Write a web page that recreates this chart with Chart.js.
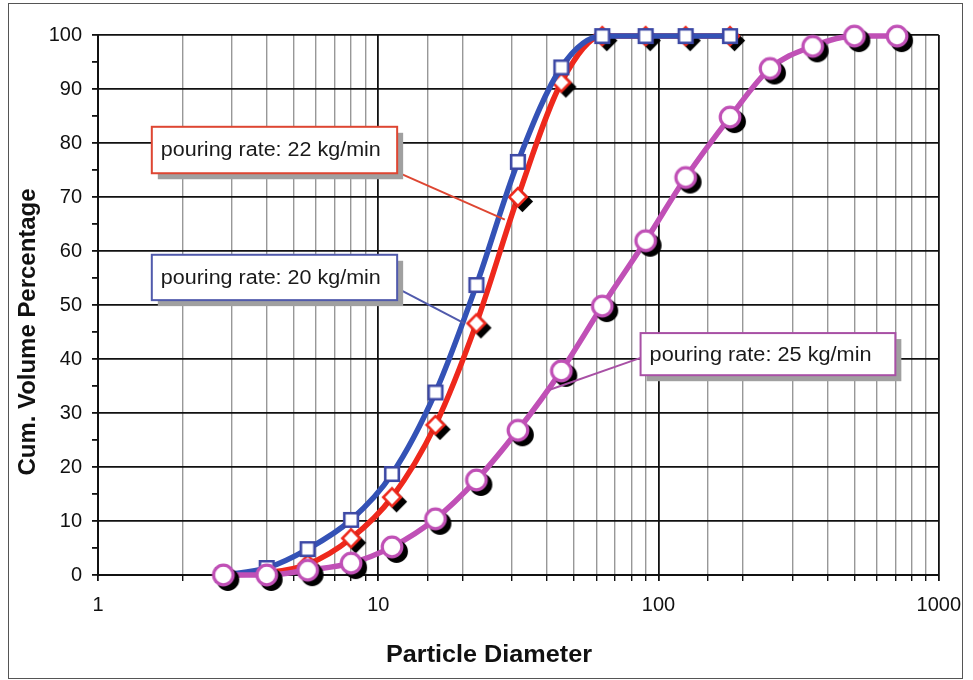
<!DOCTYPE html>
<html><head><meta charset="utf-8">
<script src="https://cdn.jsdelivr.net/npm/chart.js@4/dist/chart.umd.min.js"></script>
<style>
html,body{margin:0;padding:0;background:#fff;}
#frame{position:absolute;left:8px;top:3px;width:955px;height:676px;border:1px solid #555;box-sizing:border-box;}
#c{position:absolute;left:0;top:0;}
</style></head><body>
<div id="frame"></div>
<canvas id="c" width="973" height="680"></canvas>
<script>
// ---- data ----
const sieveSizes = [2.8, 4, 5.6, 8, 11.2, 16, 22.4, 31.5, 45, 63, 90, 125, 180, 250, 355, 500, 710];
const rate20 = [0, 1.3, 4.8, 10.2, 18.7, 33.8, 53.7, 76.5, 94.0, 99.8, 99.8, 99.8, 99.8];
const rate22 = [0, 0.4, 2.0, 6.8, 14.4, 27.8, 46.6, 70.0, 91.2, 99.8, 99.8, 99.8, 99.8];
const rate25 = [0, 0, 0.9, 2.2, 5.2, 10.4, 17.6, 26.8, 37.8, 49.8, 61.9, 73.6, 84.8, 93.8, 97.9, 99.8, 99.8];
const seriesNames = ['pouring rate: 20 kg/min', 'pouring rate: 22 kg/min', 'pouring rate: 25 kg/min'];
const xTitle = 'Particle Diameter';
const yTitle = 'Cum. Volume Percentage';

function pts(vals) { return vals.map((v, i) => ({x: sieveSizes[i], y: v})); }

// ---- styles ----
const BLUE = 'rgb(52,82,182)', RED = 'rgb(238,40,28)', MAG = 'rgb(192,80,182)';

function makeMarker(shape, half, stroke, lw, off) {
  const pad = Math.ceil(half + lw / 2 + off + 1);
  const size = pad * 2;
  const cv = document.createElement('canvas'); cv.width = size; cv.height = size;
  const g = cv.getContext('2d');
  const path = (cx, cy) => {
    g.beginPath();
    if (shape === 'circle') g.arc(cx, cy, half, 0, Math.PI * 2);
    else if (shape === 'square') g.rect(cx - half, cy - half, half * 2, half * 2);
    else { g.moveTo(cx, cy - half); g.lineTo(cx + half, cy); g.lineTo(cx, cy + half); g.lineTo(cx - half, cy); g.closePath(); }
  };
  const c = size / 2;
  if (off) { path(c + off, c + off); g.fillStyle = '#000'; g.fill(); g.lineWidth = lw; g.strokeStyle = '#000'; g.stroke(); }
  path(c, c); g.fillStyle = '#fff'; g.fill(); g.lineWidth = lw; g.strokeStyle = stroke; g.stroke();
  return cv;
}
const sqMarker = makeMarker('square', 6.8, 'rgb(60,72,165)', 2.6, 0);
const diaMarker = makeMarker('diamond', 8.8, RED, 2.6, 4.5);
const cirMarker = makeMarker('circle', 9.8, MAG, 3.2, 4.5);

// callouts positioned in data units (x: diameter, y: percent)
const callouts = [
  {text: seriesNames[1], color: 'rgb(222,70,50)', box: [1.556, 11.68, 83.0, 74.4], from: [11.68, 74.6], to: [28.3, 65.8], textW: 220},
  {text: seriesNames[0], color: 'rgb(80,90,172)', box: [1.556, 11.68, 59.3, 50.9], from: [11.8, 53.0], to: [20.3, 46.6], textW: 220},
  {text: seriesNames[2], color: 'rgb(168,80,165)', box: [86.3, 700, 44.8, 37.0], from: [86.3, 40.2], to: [40.9, 34.3], textW: 222}
];

const calloutPlugin = {
  id: 'callouts',
  afterDatasetsDraw(chart) {
    const {ctx, scales: {x, y}} = chart;
    ctx.save();
    callouts.forEach(c => {
      const l = x.getPixelForValue(c.box[0]), r = x.getPixelForValue(c.box[1]);
      const t = y.getPixelForValue(c.box[2]), b = y.getPixelForValue(c.box[3]);
      ctx.strokeStyle = c.color; ctx.lineWidth = 2;
      ctx.beginPath();
      ctx.moveTo(x.getPixelForValue(c.from[0]), y.getPixelForValue(c.from[1]));
      ctx.lineTo(x.getPixelForValue(c.to[0]), y.getPixelForValue(c.to[1]));
      ctx.stroke();
      ctx.fillStyle = '#a0a0a0'; ctx.fillRect(l + 6, t + 6, r - l, b - t);
      ctx.fillStyle = '#fff'; ctx.fillRect(l, t, r - l, b - t);
      ctx.lineWidth = 2; ctx.strokeStyle = c.color; ctx.strokeRect(l, t, r - l, b - t);
      ctx.font = '19.5px "Liberation Sans", Arial, sans-serif';
      ctx.fillStyle = '#1a1a1a'; ctx.textBaseline = 'middle'; ctx.textAlign = 'left';
      const w = ctx.measureText(c.text).width;
      ctx.save();
      ctx.translate(l + 9, (t + b) / 2 + 1);
      ctx.scale(c.textW / w, 1);
      ctx.fillText(c.text, 0, 0);
      ctx.restore();
    });
    ctx.restore();
  },
  afterDraw(chart) {
    const ctx = chart.ctx;
    ctx.save();
    ctx.fillStyle = '#111';
    ctx.font = 'bold 24px "Liberation Sans", Arial, sans-serif';
    ctx.textAlign = 'center'; ctx.textBaseline = 'middle';
    let w = ctx.measureText(xTitle).width;
    ctx.save(); ctx.translate(489, 655); ctx.scale(206 / w, 1); ctx.fillText(xTitle, 0, 0); ctx.restore();
    w = ctx.measureText(yTitle).width;
    ctx.save(); ctx.translate(28, 332); ctx.rotate(-Math.PI / 2); ctx.scale(287 / w, 1); ctx.fillText(yTitle, 0, 0); ctx.restore();
    ctx.restore();
  }
};

const isDecade = v => Math.abs(Math.log10(v) - Math.round(Math.log10(v))) < 1e-9;
const tickFont = {family: '"Liberation Sans", Arial, sans-serif', size: 20};

new Chart(document.getElementById('c'), {
  type: 'line',
  data: {
    datasets: [
      {label: seriesNames[2], data: pts(rate25), borderColor: MAG, borderWidth: 5.5, pointStyle: cirMarker, order: 0,
       cubicInterpolationMode: 'monotone', clip: false},
      {label: seriesNames[0], data: pts(rate20), borderColor: BLUE, borderWidth: 5.5, pointStyle: sqMarker, order: 1,
       cubicInterpolationMode: 'monotone', clip: false},
      {label: seriesNames[1], data: pts(rate22), borderColor: RED, borderWidth: 5.5, pointStyle: diaMarker, order: 2,
       cubicInterpolationMode: 'monotone', clip: false}
    ]
  },
  options: {
    responsive: false, animation: false, devicePixelRatio: 1,
    layout: {padding: {left: 0, right: 32, top: 35, bottom: 0}},
    plugins: {legend: {display: false}, tooltip: {enabled: false}},
    scales: {
      x: {
        type: 'logarithmic', min: 1, max: 1000,
        afterFit: s => { s.height = 105; },
        border: {color: '#111', width: 2},
        grid: {
          color: c => isDecade(c.tick.value) ? '#111' : '#989898',
          lineWidth: c => isDecade(c.tick.value) ? 1.8 : 1.4,
          tickColor: '#111', tickLength: 6
        },
        ticks: {
          autoSkip: false, maxRotation: 0, padding: 12, color: '#111', font: tickFont,
          callback: v => isDecade(v) ? String(Math.round(v)) : ''
        }
      },
      y: {
        min: 0, max: 100,
        afterFit: s => { s.width = 98; },
        border: {color: '#111', width: 2},
        grid: {
          color: c => c.tick.value % 10 === 0 ? '#111' : 'rgba(0,0,0,0)',
          lineWidth: 1.8, tickColor: '#111', tickLength: 6
        },
        ticks: {
          stepSize: 5, autoSkip: false, padding: 10, color: '#111', font: tickFont,
          callback: v => v % 10 === 0 ? String(v) : ''
        }
      }
    }
  },
  plugins: [calloutPlugin]
});
</script>
</body></html>
